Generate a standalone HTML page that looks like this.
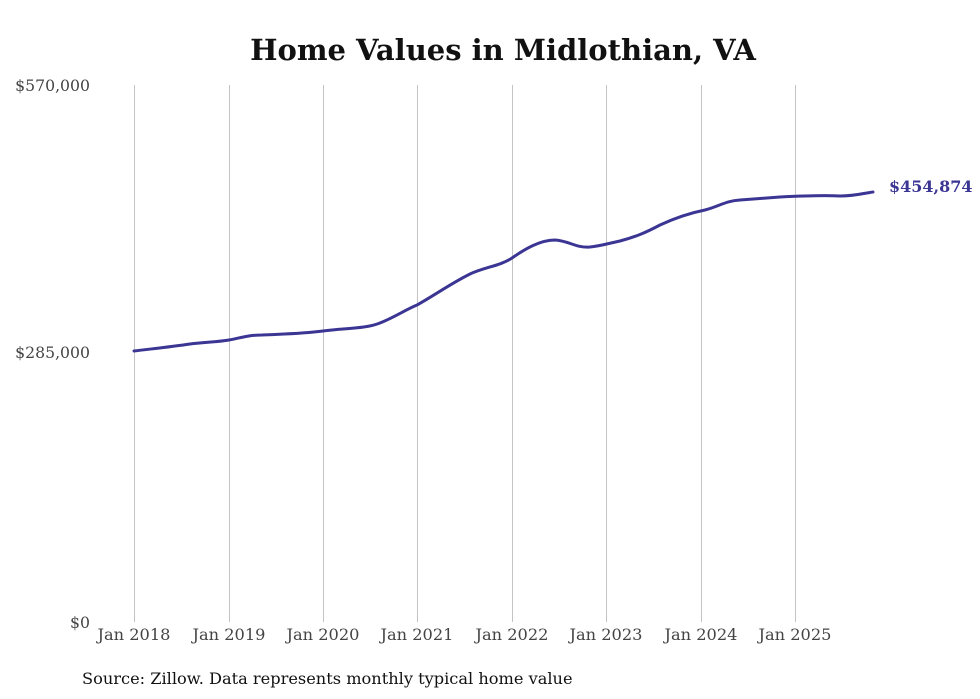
<!DOCTYPE html>
<html><head><style>
body{margin:0;background:#fff;width:980px;height:699px;overflow:hidden}
svg{display:block}
text{font-family:"DejaVu Serif","Liberation Serif",serif}
</style></head><body>
<svg width="980" height="699" viewBox="0 0 980 699" xmlns="http://www.w3.org/2000/svg">
<rect width="980" height="699" fill="#fff"/>
<text x="503" y="60" text-anchor="middle" font-size="29" font-weight="bold" fill="#111">Home Values in Midlothian, VA</text>
<g stroke="#c4c4c4" stroke-width="1">
<line x1="134.5" y1="85" x2="134.5" y2="622"/>
<line x1="229.5" y1="85" x2="229.5" y2="622"/>
<line x1="323.5" y1="85" x2="323.5" y2="622"/>
<line x1="417.5" y1="85" x2="417.5" y2="622"/>
<line x1="512.5" y1="85" x2="512.5" y2="622"/>
<line x1="606.5" y1="85" x2="606.5" y2="622"/>
<line x1="701.5" y1="85" x2="701.5" y2="622"/>
<line x1="795.5" y1="85" x2="795.5" y2="622"/>
</g>
<g font-size="15.7" fill="#444" text-anchor="end">
<text x="90" y="91">$570,000</text>
<text x="90" y="358">$285,000</text>
<text x="90" y="628">$0</text>
</g>
<g font-size="16.2" fill="#444" text-anchor="middle">
<text x="134" y="640">Jan 2018</text>
<text x="229" y="640">Jan 2019</text>
<text x="323" y="640">Jan 2020</text>
<text x="417" y="640">Jan 2021</text>
<text x="512" y="640">Jan 2022</text>
<text x="606" y="640">Jan 2023</text>
<text x="701" y="640">Jan 2024</text>
<text x="795" y="640">Jan 2025</text>
</g>
<path d="M134,351 C150,349 170,347 190,344 C205,342 218,342 229,340 C240,338 248,335 262,335 C280,334 300,334 323,331 C345,328 365,329 380,323 C395,317 405,310 417,305 C435,295 450,284 470,274 C485,267 500,266 512,258 C525,249 540,240 555,240 C570,241 575,248 590,247 C600,246 606,244 620,241 C635,237 645,233 660,225 C675,218 690,213 705,210 C720,206 725,201 740,200 C755,199 765,198 780,197 C800,196 820,195 840,196 C855,196 865,193 873,192" fill="none" stroke="#3b3593" stroke-width="3" stroke-linecap="round"/>
<text x="889" y="192" font-size="16" font-weight="bold" fill="#3b3593">$454,874</text>
<text x="82" y="684" font-size="16.2" fill="#111">Source: Zillow. Data represents monthly typical home value</text>
</svg>
</body></html>
